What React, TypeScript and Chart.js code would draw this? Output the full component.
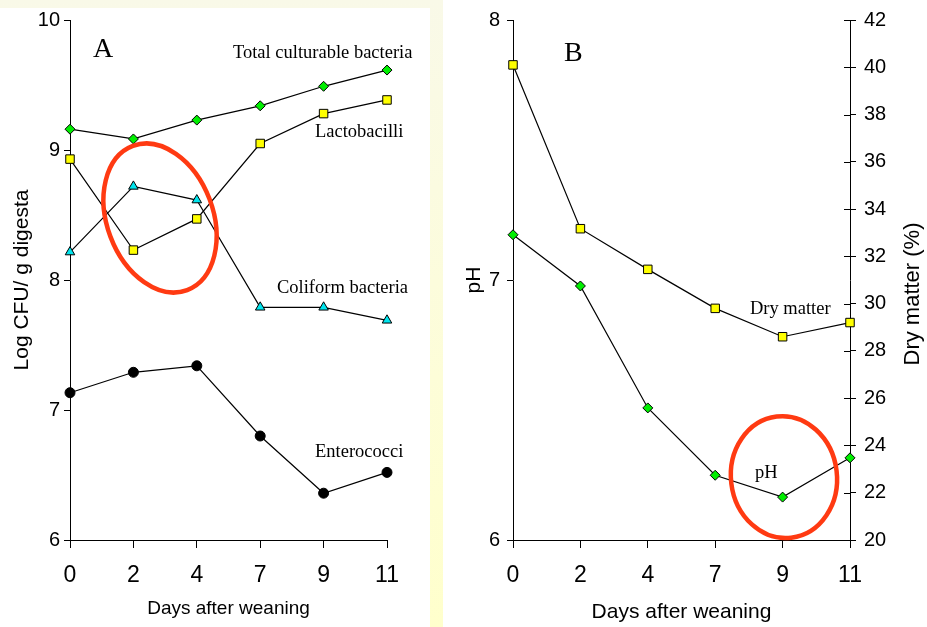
import React, { useEffect, useRef } from 'react';
import { Chart, registerables } from 'chart.js';

Chart.register(...registerables);

// ---------- data ----------
const days = ['0', '2', '4', '7', '9', '11'];

const totalCulturable = [9.16, 9.085, 9.23, 9.34, 9.49, 9.615];
const lactobacilli = [8.93, 8.23, 8.47, 9.05, 9.28, 9.385];
const coliform = [8.215, 8.72, 8.615, 7.79, 7.79, 7.69];
const enterococci = [7.133, 7.29, 7.34, 6.8, 6.36, 6.52];

const phValues = [7.174, 6.977, 6.508, 6.249, 6.165, 6.316];
const dryMatter = [40.1, 33.17, 31.45, 29.8, 28.6, 29.2];

const logRange = { min: 6, max: 10, step: 1 };
const phRange = { min: 6, max: 8, step: 1 };
const dmRange = { min: 20, max: 42, step: 2 };

// ---------- annotations (data-space anchors) ----------
const panelATexts = [
  { text: 'A', x: 0.363, y: 9.715, size: 28 },
  { text: 'Total culturable bacteria', x: 2.57, y: 9.708, size: 18.5 },
  { text: 'Lactobacilli', x: 3.864, y: 9.1, size: 18.5 },
  { text: 'Coliform bacteria', x: 3.265, y: 7.9, size: 18.5 },
  { text: 'Enterococci', x: 3.864, y: 6.638, size: 18.5 },
];
const panelAEllipses = [{ x: 1.42, y: 8.477, rx: 53, ry: 77, rot: -0.36 }];

const panelBTexts = [
  { text: 'B', x: 0.757, y: 7.843, size: 28 },
  { text: 'Dry matter', x: 3.516, y: 6.87, size: 18.5 },
  { text: 'pH', x: 3.59, y: 6.24, size: 18.5 },
];
const panelBEllipses = [{ x: 4.02, y: 6.242, rx: 53, ry: 61, rot: -0.12 }];

// ---------- styles ----------
const SANS = '"Liberation Sans", Arial, Helvetica, sans-serif';
const SERIF = '"Liberation Serif", "Times New Roman", serif';
const GREEN = '#00ee00';
const YELLOW = '#ffff00';
const CYAN = '#00e5ee';
const RED = '#ff3a12';

const annotatePlugin = (yScaleId: string, texts: any[], ellipses: any[], extra?: (chart: any) => void) => ({
  id: 'annotate',
  afterDatasetsDraw(chart: any) {
    const ctx = chart.ctx;
    const xs = chart.scales.x;
    const ys = chart.scales[yScaleId];
    ctx.save();
    for (const e of ellipses) {
      ctx.beginPath();
      ctx.ellipse(xs.getPixelForValue(e.x), ys.getPixelForValue(e.y), e.rx, e.ry, e.rot, 0, Math.PI * 2);
      ctx.strokeStyle = RED;
      ctx.lineWidth = 4.5;
      ctx.stroke();
    }
    ctx.fillStyle = '#000';
    ctx.textAlign = 'left';
    ctx.textBaseline = 'alphabetic';
    for (const t of texts) {
      ctx.font = `${t.size}px ${SERIF}`;
      ctx.fillText(t.text, xs.getPixelForValue(t.x), ys.getPixelForValue(t.y));
    }
    if (extra) extra(chart);
    ctx.restore();
  },
});

const line = (data: number[], style: string, radius: number, color: string, yAxisID = 'y') => ({
  data,
  yAxisID,
  borderColor: '#000',
  borderWidth: 1.2,
  pointStyle: style,
  pointRadius: radius,
  pointBackgroundColor: color,
  pointBorderColor: '#000',
  pointBorderWidth: 1,
  tension: 0,
  clip: false as any,
});

const xScale = (titleSize: number, titleBottom: number) => ({
  type: 'category',
  offset: false,
  grid: { display: true, drawOnChartArea: false, drawTicks: true, tickLength: 8, color: '#000', tickColor: '#000', lineWidth: 1 },
  border: { display: true, color: '#000', width: 1 },
  ticks: { color: '#000', font: { family: SANS, size: 23 }, padding: 14, maxRotation: 0, autoSkip: false },
  title: { display: true, text: 'Days after weaning', color: '#000', font: { family: SANS, size: titleSize }, padding: { top: 0, bottom: titleBottom } },
  afterFit: (s: any) => { s.height = 87; },
});

const yScale = (range: any, title: string | null, titlePad: number, labelPad: number, width: number, position = 'left') => ({
  type: 'linear',
  position,
  min: range.min,
  max: range.max,
  grid: { display: true, drawOnChartArea: false, drawTicks: true, tickLength: 6, color: '#000', tickColor: '#000', lineWidth: 1 },
  border: { display: true, color: '#000', width: 1 },
  ticks: { stepSize: range.step, color: '#000', font: { family: SANS, size: 20 }, padding: labelPad },
  title: title
    ? { display: true, text: title, color: '#000', font: { family: SANS, size: 21 }, padding: { top: titlePad, bottom: 0 } }
    : { display: false },
  afterFit: (s: any) => { s.width = width; },
});

function PanelA() {
  const ref = useRef<HTMLCanvasElement>(null);
  useEffect(() => {
    const chart = new Chart(ref.current as HTMLCanvasElement, {
      type: 'line',
      data: {
        labels: days,
        datasets: [
          line(totalCulturable, 'rectRot', 5, GREEN),
          line(lactobacilli, 'rect', 6, YELLOW),
          line(coliform, 'triangle', 5.5, CYAN),
          line(enterococci, 'circle', 5, '#000'),
        ] as any,
      },
      options: {
        animation: false,
        responsive: false,
        devicePixelRatio: 1,
        layout: { padding: { left: 0, right: 43, top: 20, bottom: 0 } },
        plugins: { legend: { display: false }, tooltip: { enabled: false } },
        scales: {
          x: xScale(19, 7) as any,
          y: yScale(logRange, 'Log CFU/ g digesta', 10, 4, 70) as any,
        },
      },
      plugins: [annotatePlugin('y', panelATexts, panelAEllipses)],
    });
    return () => chart.destroy();
  }, []);
  return <canvas ref={ref} width={430} height={627} style={{ position: 'absolute', left: 0, top: 0, width: 430, height: 627 }} />;
}

function PanelB() {
  const ref = useRef<HTMLCanvasElement>(null);
  useEffect(() => {
    const rightAxisExtras = (chart: any) => {
      const ctx = chart.ctx;
      const y1 = chart.scales.y1;
      const right = chart.chartArea.right;
      ctx.strokeStyle = '#000';
      ctx.lineWidth = 1;
      ctx.beginPath();
      for (const t of y1.ticks) {
        const py = Math.round(y1.getPixelForValue(t.value)) + 0.5;
        ctx.moveTo(right - 6, py);
        ctx.lineTo(right, py);
      }
      ctx.stroke();
      ctx.save();
      ctx.translate(y1.right - 14, (y1.top + y1.bottom) / 2 + 14);
      ctx.rotate(-Math.PI / 2);
      ctx.font = `22px ${SANS}`;
      ctx.fillStyle = '#000';
      ctx.textAlign = 'center';
      ctx.textBaseline = 'middle';
      ctx.fillText('Dry matter (%)', 0, 0);
      ctx.restore();
    };
    const chart = new Chart(ref.current as HTMLCanvasElement, {
      type: 'line',
      data: {
        labels: days,
        datasets: [
          line(phValues, 'rectRot', 5, GREEN, 'y'),
          line(dryMatter, 'rect', 6, YELLOW, 'y1'),
        ] as any,
      },
      options: {
        animation: false,
        responsive: false,
        devicePixelRatio: 1,
        layout: { padding: { left: 0, right: 0, top: 16, bottom: 0 } },
        plugins: { legend: { display: false }, tooltip: { enabled: false } },
        scales: {
          x: xScale(21, 2) as any,
          y: yScale(phRange, 'pH', 19, 7, 70) as any,
          y1: yScale(dmRange, null, 0, 8, 77, 'right') as any,
        },
      },
      plugins: [annotatePlugin('y', panelBTexts, panelBEllipses, rightAxisExtras)],
    });
    return () => chart.destroy();
  }, []);
  return <canvas ref={ref} width={484} height={627} style={{ position: 'absolute', left: 443, top: 0, width: 484, height: 627 }} />;
}

export default function App() {
  return (
    <div style={{ position: 'absolute', left: 0, top: 0, width: 927, height: 627, background: '#ffffff', overflow: 'hidden' }}>
      <div style={{ position: 'absolute', left: 0, top: 0, width: 443, height: 627, background: 'linear-gradient(to bottom, #f9f9e8 0%, #fdfdd8 60%, #ffffcc 100%)' }} />
      <div style={{ position: 'absolute', left: 0, top: 8, width: 430, height: 619, background: '#ffffff' }} />
      <PanelA />
      <PanelB />
    </div>
  );
}
